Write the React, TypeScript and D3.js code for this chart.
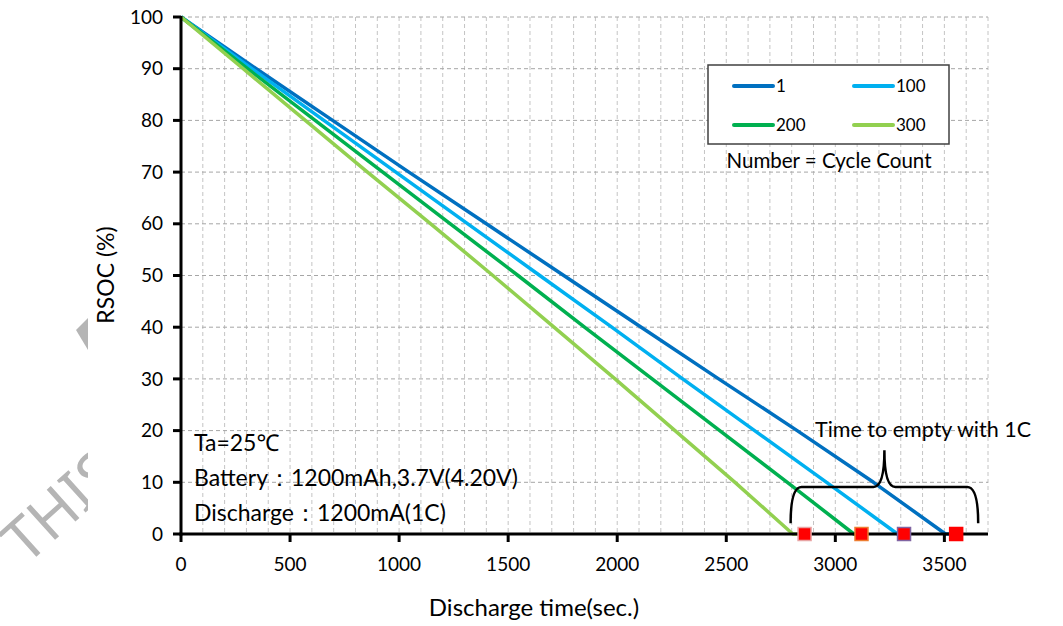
import React from 'react';
import * as d3 from 'd3';

// RSOC levels (%) at which the discharge time was read for each curve
const rsocLevels = [100, 90, 80, 70, 60, 50, 40, 30, 20, 10, 0];

const cycleLabels = ['1', '100', '200', '300'];

// discharge time (sec.) at each RSOC level
const timesCycle1 = [0, 345, 695, 1045, 1400, 1755, 2110, 2465, 2825, 3175, 3505];
const timesCycle100 = [0, 325, 655, 985, 1315, 1645, 1975, 2300, 2630, 2960, 3285];
const timesCycle200 = [0, 305, 615, 925, 1235, 1545, 1850, 2160, 2470, 2780, 3085];
const timesCycle300 = [0, 285, 570, 855, 1145, 1430, 1710, 1990, 2265, 2540, 2805];

// time to empty (red markers)
const emptyTimes = [3554, 3315, 3120, 2859];

const lineColors = ['#0070C0', '#00B0F0', '#00B050', '#92D050'];
const markerEdges = ['#FF0000', '#8064A2', '#ED7D31', '#E8A4A4'];

const xTicks = [0, 500, 1000, 1500, 2000, 2500, 3000, 3500];
const yTicks = [0, 10, 20, 30, 40, 50, 60, 70, 80, 90, 100];

const notes = ['Ta=25℃', 'Battery：1200mAh,3.7V(4.20V)', 'Discharge：1200mA(1C)'];

const FONT = 'Lato, "Noto Sans", sans-serif';

const width = 1063;
const height = 626;

export default function App() {
  const x = d3.scaleLinear().domain([0, 3700]).range([181, 988]);
  const y = d3.scaleLinear().domain([0, 100]).range([534, 17]);

  const series = [timesCycle1, timesCycle100, timesCycle200, timesCycle300].map((times, i) => {
    const pts: [number, number][] = times.map((t, j) => [t, rsocLevels[j]]);
    pts.push([emptyTimes[i], 0]);
    return pts;
  });

  const line = d3
    .line<[number, number]>()
    .x(d => x(d[0]))
    .y(d => y(d[1]));

  // brace under the "time to empty" note (data units)
  const bL = 2795, bR = 3655, bM = 3225;
  const yLow = 2.1, yBar = 9.1, yTip = 16.2;
  const r = 11;
  const brace =
    `M${x(bL)},${y(yLow)} Q${x(bL)},${y(yBar)} ${x(bL) + r},${y(yBar)} ` +
    `L${x(bM) - r},${y(yBar)} Q${x(bM)},${y(yBar)} ${x(bM)},${y(yTip)} ` +
    `Q${x(bM)},${y(yBar)} ${x(bM) + r},${y(yBar)} ` +
    `L${x(bR) - r},${y(yBar)} Q${x(bR)},${y(yBar)} ${x(bR)},${y(yLow)}`;

  const vGrid = d3.range(100, 3701, 100);
  const hGrid = d3.range(10, 101, 10);

  return (
    <svg
      width={width}
      height={height}
      style={{ position: 'absolute', left: 0, top: 0, background: '#fff' }}
      fontFamily={FONT}
    >
      {/* watermark behind the chart area */}
      <text
        transform="translate(26,566) rotate(-42)"
        fontSize={60}
        fill="#b5b5b5"
        fontFamily='"Noto Sans", sans-serif'
      >
        THIS
      </text>
      <polygon points="88,318 76,330 88,350" fill="#b5b5b5" />
      <rect x={88} y={0} width={width - 88} height={height} fill="#fff" />

      {/* grid */}
      {vGrid.map(t => (
        <line
          key={'v' + t}
          x1={x(t)}
          x2={x(t)}
          y1={y(100)}
          y2={y(0)}
          stroke="#c4c4c4"
          strokeWidth={1}
          strokeDasharray="4,3"
        />
      ))}
      {hGrid.map(v => (
        <line
          key={'h' + v}
          x1={x(0)}
          x2={x(3700)}
          y1={y(v)}
          y2={y(v)}
          stroke="#a6a6a6"
          strokeWidth={1}
          strokeDasharray="4,3"
        />
      ))}

      {/* curves */}
      {series.map((pts, i) => (
        <path
          key={'s' + i}
          d={line(pts) || ''}
          fill="none"
          stroke={lineColors[i]}
          strokeWidth={3.5}
          strokeLinejoin="round"
        />
      ))}

      {/* axes */}
      <line x1={x(0)} x2={x(0)} y1={y(100) - 1} y2={y(0) + 1.5} stroke="#000" strokeWidth={3} />
      <line x1={x(0) - 1.5} x2={x(3700)} y1={y(0)} y2={y(0)} stroke="#000" strokeWidth={3} />
      {yTicks.map(v => (
        <g key={'yt' + v}>
          <line x1={x(0) - 8} x2={x(0)} y1={y(v)} y2={y(v)} stroke="#000" strokeWidth={3} />
          <text x={163} y={y(v)} dy="0.35em" textAnchor="end" fontSize={19} fill="#000">
            {v}
          </text>
        </g>
      ))}
      {xTicks.map(t => (
        <g key={'xt' + t}>
          <line x1={x(t)} x2={x(t)} y1={y(0)} y2={y(0) + 8} stroke="#000" strokeWidth={3} />
          <text x={x(t)} y={571} textAnchor="middle" fontSize={19} fill="#000">
            {t}
          </text>
        </g>
      ))}

      {/* time-to-empty markers */}
      {emptyTimes.map((t, i) => (
        <rect
          key={'m' + i}
          x={x(t) - 6.5}
          y={y(0) - 6.5}
          width={13}
          height={13}
          fill="#FF0000"
          stroke={markerEdges[i]}
          strokeWidth={1.5}
        />
      ))}

      {/* axis titles */}
      <text x={534} y={616} textAnchor="middle" fontSize={24} fill="#000">
        Discharge time(sec.)
      </text>
      <text
        transform={`translate(114,${275}) rotate(-90)`}
        textAnchor="middle"
        fontSize={23}
        fill="#000"
      >
        RSOC (%)
      </text>

      {/* legend */}
      <rect x={708} y={65} width={241} height={79} fill="#fff" stroke="#404040" strokeWidth={1.5} />
      {cycleLabels.map((label, i) => {
        const lx = i % 2 === 0 ? 734 : 854;
        const ly = i < 2 ? 86 : 125;
        return (
          <g key={'lg' + i}>
            <line x1={lx} x2={lx + 39} y1={ly} y2={ly} stroke={lineColors[i]} strokeWidth={4} strokeLinecap="round" />
            <text x={lx + 42} y={ly} dy="0.35em" fontSize={17} fill="#000">
              {label}
            </text>
          </g>
        );
      })}
      <text x={829} y={168} textAnchor="middle" fontSize={20.5} fill="#000">
        Number = Cycle Count
      </text>

      {/* annotations */}
      <path d={brace} fill="none" stroke="#000" strokeWidth={2.5} />
      <text x={815} y={437} fontSize={21.5} fill="#000">
        Time to empty with 1C
      </text>
      {notes.map((n, i) => (
        <text key={'n' + i} x={194} y={451 + i * 35} fontSize={23} fill="#000">
          {n}
        </text>
      ))}
    </svg>
  );
}
